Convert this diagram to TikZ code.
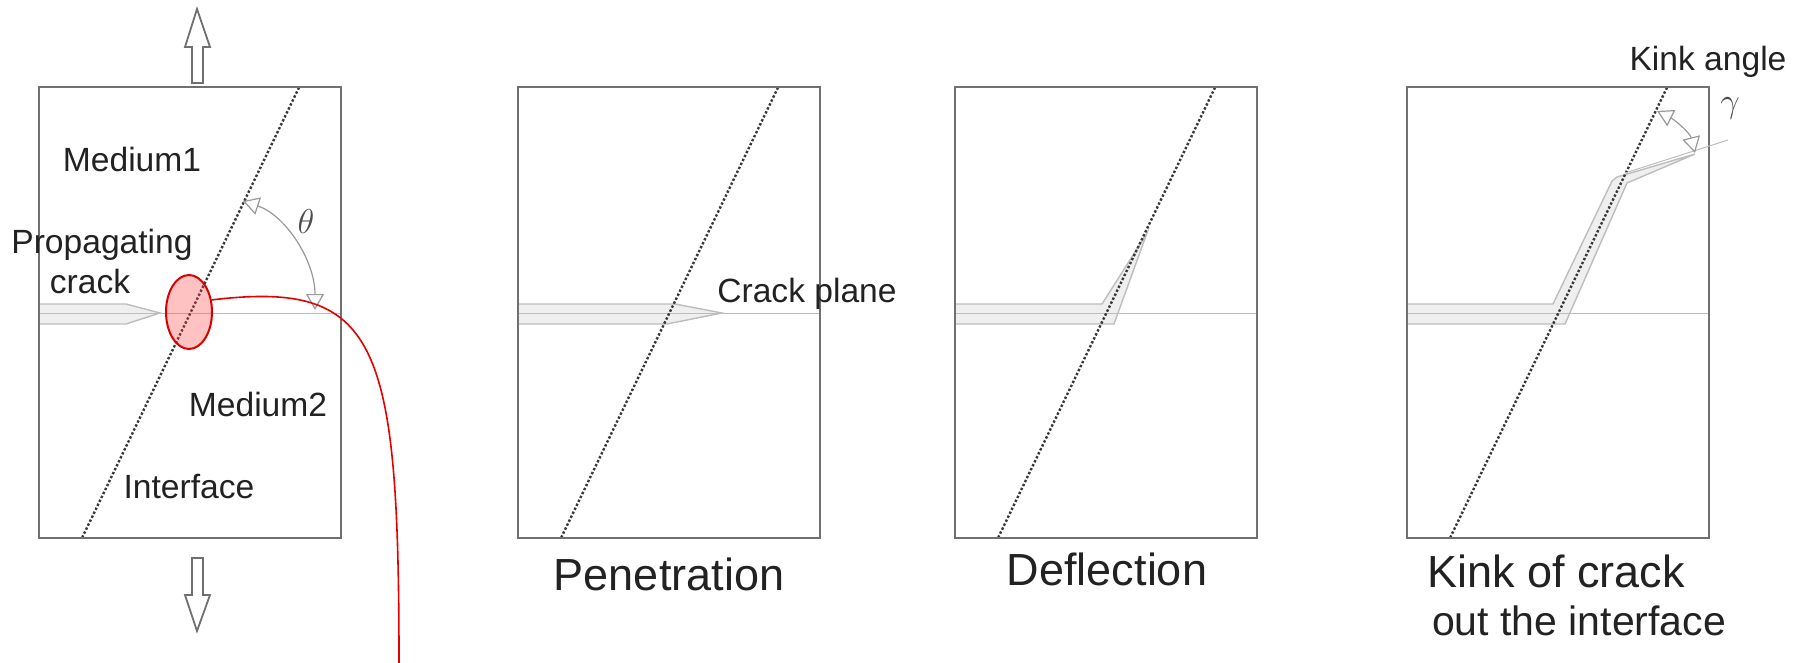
\documentclass[tikz,border=0pt]{standalone}
\usepackage{fontspec}
\setmainfont{Liberation Sans}
\usetikzlibrary{arrows.meta,shapes.geometric}
\definecolor{boxgray}{HTML}{707070}
\definecolor{linegray}{HTML}{BDBDBD}
\definecolor{crackfill}{HTML}{EFEFEF}
\definecolor{inkgray}{HTML}{222222}
\tikzset{
    panelbox/.style={draw=boxgray, line width=1pt},
    interfaceline/.style={draw=inkgray!90, line width=1.2pt, densely dotted},
    planeline/.style={draw=linegray, line width=0.5pt},
    crackshape/.style={draw=linegray, fill=crackfill, line width=0.7pt},
    loadarrow/.style={draw=boxgray, fill=white, line width=0.9pt},
    anglearc/.style={draw=gray!80, line width=0.6pt, {Triangle[open,length=8pt,width=9pt]}-{Triangle[open,length=8pt,width=9pt]}},
    smalltext/.style={text=inkgray, inner sep=0pt, font=\fontsize{16.8pt}{20pt}\selectfont},
    captiontext/.style={text=inkgray, inner sep=0pt, font=\fontsize{22.5pt}{26pt}\selectfont},
    greektext/.style={text=inkgray!80, inner sep=0pt, font=\fontsize{18pt}{20pt}\selectfont}
}
\begin{document}
\begin{tikzpicture}[x=0.5pt, y=-0.5pt]
        \useasboundingbox (0,0) rectangle (1798,663);

        % Define coordinates for the four panels
        \foreach \name/\xleft in {a/39,b/518,c/955,d/1407} {
                \coordinate (\name top) at ({\xleft+260},87.5);
                \coordinate (\name bot) at ({\xleft+43},538);
                \coordinate (\name left) at (\xleft,313);
                \coordinate (\name right) at ({\xleft+302},313);
            }

        % Draw the cracks
        \draw[crackshape] (39,304) -- (126,304) -- (160,313) -- (126,324) -- (39,324);
        \draw[crackshape] (518,304) -- (675,304) -- (722,313) -- (667,324) -- (518,324);
        \draw[crackshape] (955,304) -- (1102,304) -- (1147,233) -- (1114,324) -- (955,324);
        \draw[crackshape] (1407,304) -- (1553,304) -- (1612,181) -- (1617,177) -- (1695,154)
            -- (1627,183) -- (1565,324) -- (1407,324);

        % Draw the panels, the crack plane and the interface
        \foreach \name/\xleft in {a/39,b/518,c/955,d/1407} {
                \draw[planeline] (\name left) -- (\name right);
                \draw[interfaceline] (\name top) -- (\name bot);
                \draw[panelbox] (\xleft,87.5) rectangle ({\xleft+302},538);
            }
        \coordinate (kinkstart) at (1625,173);
        \coordinate (kinkend) at (1728,140);
        \draw[planeline] (kinkstart) -- (kinkend);

        % Load arrows
        \draw[loadarrow] (192,83) -- (192,47) -- (185,47) -- (197,9) -- (210,47) -- (203,47) -- (203,83) -- cycle;
        \draw[loadarrow] (192,558) -- (192,595) -- (185,595) -- (197,631) -- (210,595) -- (203,595) -- (203,558) -- cycle;

        % Angles
        \coordinate (thetaa) at (243,201);
        \coordinate (thetab) at (315,310);
        \draw[anglearc] (thetaa) .. controls (285,215) and (315,260) .. (thetab);
        \coordinate (gammaa) at (1657,111);
        \coordinate (gammab) at (1695,153);
        \draw[anglearc] (gammaa) .. controls (1675,120) and (1690,133) .. (gammab);

        % Add labels
        \node[smalltext] (medone) at (132,159) {Medium1};
        \node[smalltext] (proptext) at (102,245) {Propagating};
        \node[smalltext] (cracktext) at (90,281) {crack};
        \node[smalltext] (medtwo) at (258,404) {Medium2};
        \node[smalltext] (interfacetext) at (189,487) {Interface};
        \node[smalltext] (planetext) at (807,294) {Crack plane};
        \node[smalltext] (kinktext) at (1708,62) {Kink angle};
        \node[greektext] (thetatext) at (306,222) {$\theta$};
        \node[greektext] (gammatext) at (1730,108) {$\gamma$};
        \node[captiontext] (pentext) at (669,574) {Penetration};
        \node[captiontext] (deftext) at (1107,569) {Deflection};
        \node[captiontext] (kinkone) at (1556,571) {Kink of crack};
        \node[captiontext, font=\fontsize{20.5pt}{26pt}\selectfont] (kinktwo) at (1579,621) {out the interface};

        % Red mark and its lead
        \node[ellipse, draw=red!85!black, fill=red!75, fill opacity=0.32, line width=1pt,
            minimum width=23pt, minimum height=37pt, inner sep=0pt] (hotspot) at (189,312) {};
        \coordinate (leadend) at (399,663);
        \draw[red!90!black, line width=0.8pt] (hotspot.28) .. controls (378,280) and (399,340) .. (leadend);
    \end{tikzpicture}
\end{document}
